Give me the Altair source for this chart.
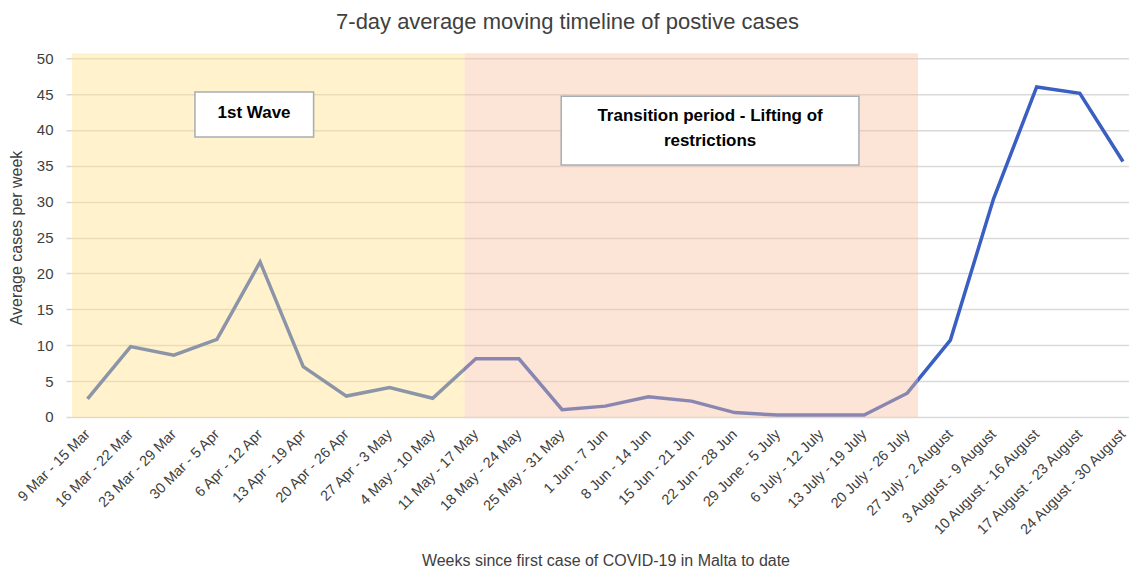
import json
import altair as alt
import pandas as pd

weeks = ["9 Mar - 15 Mar", "16 Mar - 22 Mar", "23 Mar - 29 Mar", "30 Mar - 5 Apr",
         "6 Apr - 12 Apr", "13 Apr - 19 Apr", "20 Apr - 26 Apr", "27 Apr - 3 May",
         "4 May - 10 May", "11 May - 17 May", "18 May - 24 May", "25 May - 31 May",
         "1 Jun - 7 Jun", "8 Jun - 14 Jun", "15 Jun - 21 Jun", "22 Jun - 28 Jun",
         "29 June - 5 July", "6 July - 12 July", "13 July - 19 July", "20 July - 26 July",
         "27 July - 2 August", "3 August - 9 August", "10 August - 16 August",
         "17 August - 23 August", "24 August - 30 August"]
cases = [2.5, 9.8, 8.6, 10.8, 21.6, 7.0, 2.9, 4.1, 2.6, 8.1, 8.1, 1.0, 1.5,
         2.8, 2.2, 0.6, 0.25, 0.25, 0.25, 3.3, 10.7, 30.4, 46.0, 45.1, 35.6]

# shaded periods (in week-index units)
period_start = [-0.36, 8.74]
period_end = [8.74, 19.25]
period_top = [50.7, 50.7]
period_color = ["#FFE086", "#F8BF9D"]

# annotation boxes
box_x1 = [2.49, 10.98]
box_x2 = [5.24, 17.88]
box_y1 = [39.0, 35.1]
box_y2 = [45.3, 44.7]
box_tx = [3.86, 14.43]
box_ty = [42.4, 41.9]
box_text = ["1st Wave", "Transition period - Lifting of\nrestrictions"]

FONT = "Liberation Sans"

df = pd.DataFrame({"i": list(range(len(weeks))), "cases": cases})
periods = pd.DataFrame({"x1": period_start, "x2": period_end, "y2": period_top,
                        "c": period_color, "y1": [0, 0]})
boxes = pd.DataFrame({"x1": box_x1, "x2": box_x2, "y1": box_y1, "y2": box_y2,
                      "tx": box_tx, "ty": box_ty, "t": box_text})

label_expr = json.dumps(weeks) + "[datum.value]"

xscale = alt.Scale(domain=[-0.5, 24.14], nice=False, zero=False)
yscale = alt.Scale(domain=[0, 50], nice=False)

xaxis = alt.Axis(values=list(range(len(weeks))), labelExpr=label_expr,
                 labelAngle=-45, labelAlign="right", labelBaseline="middle",
                 grid=False, ticks=False, domain=False, labelPadding=15,
                 labelFontSize=14.5, labelColor="#404040", labelFont=FONT,
                 title="Weeks since first case of COVID-19 in Malta to date",
                 titleFont=FONT, titleFontSize=16, titleFontWeight="normal",
                 titleColor="#404040", titleY=144, titleBaseline="middle",
                 titleX=540, labelOverlap=False, labelFlush=False)
yaxis = alt.Axis(values=list(range(0, 51, 5)), grid=True, gridColor="#D9D9D9",
                 gridWidth=1.5, ticks=False, domain=False, labelPadding=13,
                 labelFontSize=15, labelColor="#404040", labelFont=FONT,
                 labelOverlap=False,
                 title="Average cases per week", titleFont=FONT,
                 titleFontSize=16, titleFontWeight="normal",
                 titleColor="#404040", titlePadding=12)

line = alt.Chart(df).mark_line(color="#3A5FC2", strokeWidth=3.5, strokeJoin="miter").encode(
    x=alt.X("i:Q", scale=xscale, axis=xaxis),
    y=alt.Y("cases:Q", scale=yscale, axis=yaxis),
)

shade = alt.Chart(periods).mark_rect(fillOpacity=0.42, clip=False).encode(
    x=alt.X("x1:Q", scale=xscale, axis=xaxis), x2="x2:Q",
    y=alt.Y("y1:Q", scale=yscale, axis=yaxis), y2="y2:Q",
    color=alt.Color("c:N", scale=None),
)

box = alt.Chart(boxes).mark_rect(fill="white", stroke="#A6ADB4", strokeWidth=1.5).encode(
    x=alt.X("x1:Q", scale=xscale, axis=xaxis), x2="x2:Q",
    y=alt.Y("y1:Q", scale=yscale, axis=yaxis), y2="y2:Q",
)

txt = alt.Chart(boxes).mark_text(font=FONT, fontSize=17, fontWeight="bold", color="black",
                                 lineBreak="\n", lineHeight=25, align="center",
                                 baseline="middle").encode(
    x=alt.X("tx:Q", scale=xscale, axis=xaxis),
    y=alt.Y("ty:Q", scale=yscale, axis=yaxis),
    text="t:N",
)

chart = alt.layer(line, shade, box, txt).properties(
    width=1064, height=359,
    title=alt.TitleParams("7-day average moving timeline of postive cases",
                          font=FONT, fontSize=22, fontWeight="normal",
                          color="#404040", dx=-30, offset=17),
    autosize=alt.AutoSizeParams(type="none"),
    padding={"left": 58, "top": 50, "right": 0, "bottom": 155},
).configure_view(stroke=None)

chart.save("out.html", embed_options={"renderer": "svg", "actions": False})
